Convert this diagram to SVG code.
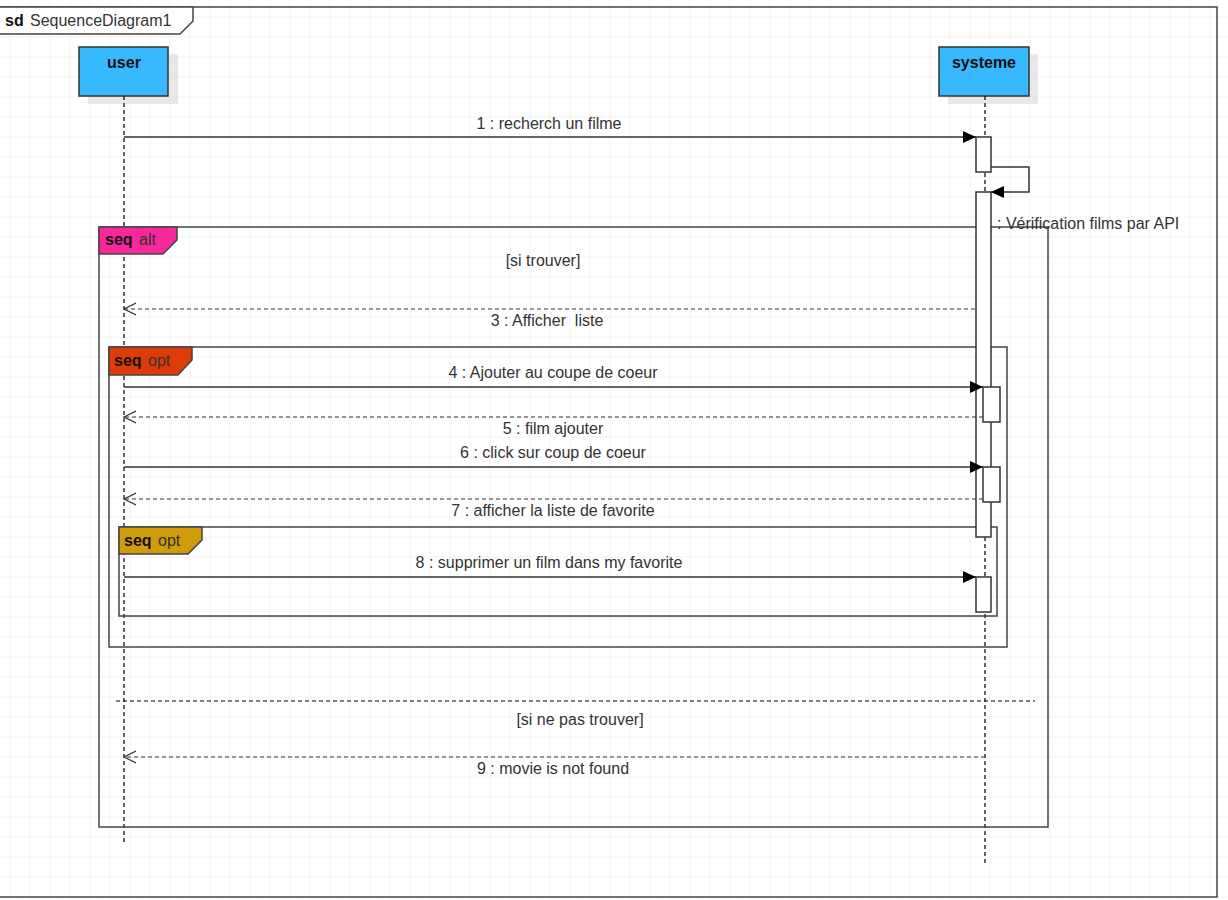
<svg xmlns="http://www.w3.org/2000/svg" width="1228" height="900" viewBox="0 0 1228 900">
<defs>
<pattern id="grid" x="9.5" y="16.5" width="20" height="20" patternUnits="userSpaceOnUse">
<path d="M0 0H20M0 0V20" fill="none" stroke="#e6e6e6" stroke-width="1"/>
</pattern>
<marker id="filled" markerWidth="14" markerHeight="12" refX="13" refY="6" orient="auto" markerUnits="userSpaceOnUse">
<path d="M0 0L13 6L0 12Z" fill="#000"/>
</marker>
<marker id="open" markerWidth="14" markerHeight="14" refX="12" refY="7" orient="auto" markerUnits="userSpaceOnUse">
<path d="M0 1L12 7L0 13" fill="none" stroke="#333" stroke-width="1.2"/>
</marker>
</defs>
<style>
.t{font-family:"Liberation Sans",Arial,sans-serif;font-size:16px;fill:#333}
.b{font-family:"Liberation Sans",Arial,sans-serif;font-size:16px;font-weight:bold;fill:#111}
.frame{fill:none;stroke:#444;stroke-width:1.5}
.life{fill:#38b8ff;stroke:#333;stroke-width:1.5}
.shadow{fill:#d8d8d8;opacity:0.6}
.lifeline{stroke:#000;stroke-width:1.2;stroke-dasharray:4 3;fill:none}
.act{fill:#fff;stroke:#333;stroke-width:1.5}
.sync{stroke:#333;stroke-width:1.5;fill:none;marker-end:url(#filled)}
.ret{stroke:#333;stroke-width:1.2;stroke-dasharray:4 3;fill:none;marker-end:url(#open)}
.div{stroke:#000;stroke-width:1;stroke-dasharray:4 3;fill:none}
</style>
<rect width="1228" height="900" fill="#fff"/>
<rect width="1228" height="900" fill="url(#grid)"/>

<g id="frame-sd">
<rect x="-1" y="7" width="1218" height="890" class="frame"/>
<path d="M-1 7H193V21L180 34H-1Z" fill="#fff" stroke="#444" stroke-width="1.5"/>
<text x="5" y="26" class="b">sd</text>
<text x="30" y="26" class="t">SequenceDiagram1</text>
</g>

<g id="lifeline-user">
<rect x="88" y="54" width="90" height="50" class="shadow"/>
<rect x="79" y="47" width="89" height="49" class="life"/>
<text x="124" y="68" class="b" text-anchor="middle">user</text>
<line x1="124" y1="96" x2="124" y2="843" class="lifeline"/>
</g>

<g id="lifeline-systeme">
<rect x="948" y="54" width="90" height="50" class="shadow"/>
<rect x="939" y="47" width="90" height="49" class="life"/>
<text x="984" y="68" class="b" text-anchor="middle">systeme</text>
<line x1="985" y1="96" x2="985" y2="865" class="lifeline"/>
</g>

<g id="frame-alt">
<rect x="99" y="227" width="949" height="600" class="frame"/>
<path d="M99 227H177V240L163 254H99Z" fill="#f7289a" stroke="#444" stroke-width="1.5"/>
<text x="105" y="245" class="b">seq</text>
<text x="139" y="245" class="t">alt</text>
<text x="543" y="266" class="t" text-anchor="middle">[si trouver]</text>
<line x1="116" y1="701" x2="1035" y2="701" class="div"/>
<text x="580" y="725" class="t" text-anchor="middle">[si ne pas trouver]</text>
</g>

<g id="frame-opt1">
<rect x="109" y="347" width="898" height="300" class="frame"/>
<path d="M109 347H192V360L178 375H109Z" fill="#dd3c08" stroke="#444" stroke-width="1.5"/>
<text x="114" y="366" class="b">seq</text>
<text x="148" y="366" class="t">opt</text>
</g>

<g id="frame-opt2">
<rect x="119" y="527" width="878" height="89" class="frame"/>
<path d="M119 527H202V540L188 554H119Z" fill="#d19c0c" stroke="#444" stroke-width="1.5"/>
<text x="124" y="546" class="b">seq</text>
<text x="158" y="546" class="t">opt</text>
</g>

<g id="activations">
<rect x="976" y="137" width="15" height="35" class="act"/>
<rect x="976" y="192" width="15" height="345" class="act"/>
<rect x="983" y="387" width="17" height="35" class="act"/>
<rect x="983" y="467" width="17" height="35" class="act"/>
<rect x="976" y="577" width="15" height="35" class="act"/>
</g>

<g id="connectors">
<line x1="124" y1="137" x2="976" y2="137" class="sync"/>
<text x="549" y="129" class="t" text-anchor="middle">1 : recherch un filme</text>

<path d="M991 167H1029V192H991" class="sync"/>
<text x="997" y="229" class="t">: Vérification films par API</text>

<line x1="975" y1="309" x2="124" y2="309" class="ret"/>
<text x="547" y="326" class="t" text-anchor="middle" xml:space="preserve">3 : Afficher  liste</text>

<line x1="124" y1="387" x2="983" y2="387" class="sync"/>
<text x="553" y="378" class="t" text-anchor="middle">4 : Ajouter au coupe de coeur</text>

<line x1="983" y1="417" x2="124" y2="417" class="ret"/>
<text x="553" y="434" class="t" text-anchor="middle">5 : film ajouter</text>

<line x1="124" y1="467" x2="983" y2="467" class="sync"/>
<text x="553" y="458" class="t" text-anchor="middle">6 : click sur coup de coeur</text>

<line x1="983" y1="499" x2="124" y2="499" class="ret"/>
<text x="553" y="516" class="t" text-anchor="middle">7 : afficher la liste de favorite</text>

<line x1="124" y1="577" x2="976" y2="577" class="sync"/>
<text x="549" y="568" class="t" text-anchor="middle">8 : supprimer un film dans my favorite</text>

<line x1="985" y1="757" x2="124" y2="757" class="ret"/>
<text x="553" y="774" class="t" text-anchor="middle">9 : movie is not found</text>
</g>
</svg>
